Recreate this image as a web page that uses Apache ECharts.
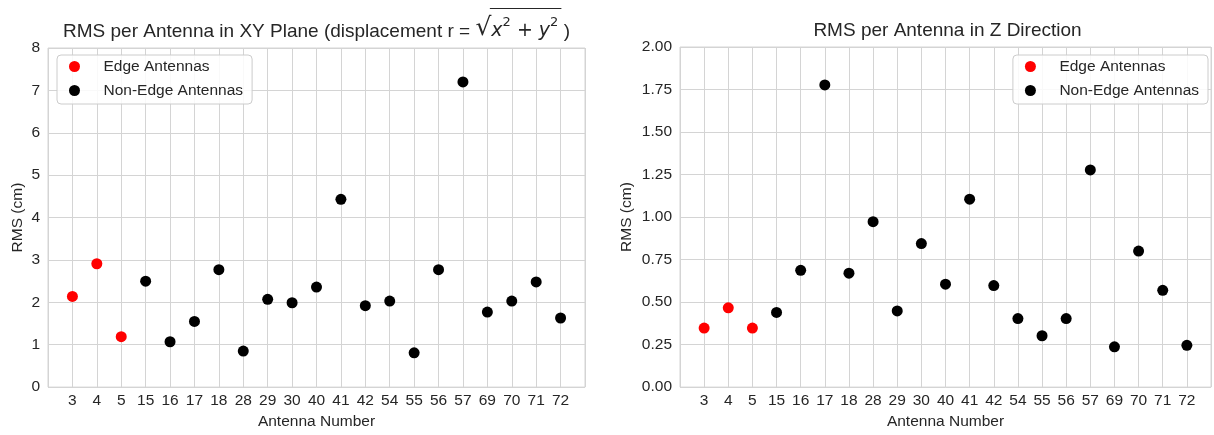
<!DOCTYPE html>
<html><head><meta charset="utf-8">
<script src="https://cdn.jsdelivr.net/npm/echarts@6/dist/echarts.min.js"></script>
<style>html,body{margin:0;padding:0;background:#fff}#c{width:1214px;height:435px}</style>
</head><body><div id="c"></div>
<script>
// ---- data ----
const antennas = ['3','4','5','15','16','17','18','28','29','30','40','41','42','54','55','56','57','69','70','71','72'];
const edgeAntennas = ['3','4','5'];
const rmsXY = [2.14,2.91,1.19,2.50,1.07,1.55,2.77,0.85,2.07,1.99,2.36,4.43,1.92,2.03,0.81,2.77,7.20,1.77,2.03,2.48,1.63];
const rmsZ  = [0.347,0.466,0.347,0.439,0.687,1.777,0.670,0.973,0.448,0.844,0.605,1.105,0.597,0.403,0.302,0.403,1.277,0.237,0.800,0.569,0.246];
const yTicksXY = ['0','1','2','3','4','5','6','7','8'];
const yTicksZ  = ['0.00','0.25','0.50','0.75','1.00','1.25','1.50','1.75','2.00'];
const seriesNames = ['Edge Antennas','Non-Edge Antennas'];
const titleXY = 'RMS per Antenna in XY Plane (displacement r = ';
const titleZ = 'RMS per Antenna in Z Direction';
const xLabel = 'Antenna Number';
const yLabel = 'RMS (cm)';

// ---- styling ----
const FONT = '"Liberation Sans", Arial, sans-serif';
const TXT = '#262626';
const GRIDC = '#d4d4d4';
const FS = 15.5;

function pts(vals, edge) {
  const out = [];
  antennas.forEach((a, i) => {
    const isEdge = edgeAntennas.indexOf(a) >= 0;
    if (isEdge === edge) out.push([i, vals[i]]);
  });
  return out;
}

function xAxisCfg(gi) {
  return {
    gridIndex: gi, type: 'value', min: -1, max: antennas.length, interval: 1,
    name: xLabel, nameLocation: 'middle', nameGap: 25,
    nameTextStyle: {fontSize: FS, fontFamily: FONT, color: TXT},
    axisLine: {show: false}, axisTick: {show: false},
    axisLabel: {margin: 6, fontSize: FS, fontFamily: FONT, color: TXT,
      formatter: v => (antennas[v] !== undefined ? antennas[v] : '')},
    splitLine: {show: true, lineStyle: {color: GRIDC, width: 1}}
  };
}
function yAxisCfg(gi, ticks, step, gap) {
  return {
    gridIndex: gi, type: 'value', min: 0, max: (ticks.length - 1) * step, interval: step,
    name: yLabel, nameLocation: 'middle', nameGap: gap, nameRotate: 90,
    nameTextStyle: {fontSize: FS, fontFamily: FONT, color: TXT},
    axisLine: {show: false}, axisTick: {show: false},
    axisLabel: {margin: 8, fontSize: FS, fontFamily: FONT, color: TXT,
      formatter: v => ticks[Math.round(v / step)]},
    splitLine: {show: true, lineStyle: {color: GRIDC, width: 1}}
  };
}
function legendCfg(pos) {
  return Object.assign({
    orient: 'vertical', top: 55, data: seriesNames,
    icon: 'circle', itemWidth: 20, itemHeight: 11, itemGap: 7,
    padding: [3, 9, 5, 12],
    backgroundColor: 'rgba(255,255,255,0.85)', borderColor: '#cccccc', borderWidth: 1, borderRadius: 4,
    selectedMode: false,
    textStyle: {fontSize: FS, fontFamily: FONT, color: TXT, lineHeight: 17, padding: [0,0,0,14]}
  }, pos);
}
function scatter(name, xi, data, color) {
  return {type: 'scatter', name: name, xAxisIndex: xi, yAxisIndex: xi, data: data,
    symbol: 'circle', symbolSize: 11, itemStyle: {color: color, opacity: 1},
    emphasis: {disabled: true}, z: 3};
}

// measure title pieces to place the radical's vinculum
const mc = document.createElement('canvas').getContext('2d');
function mw(text, font) { mc.font = font; return mc.measureText(text).width; }
const TS = 19, SUP = 13, RAD = 25;
const fN = TS + 'px "Liberation Sans"';
const fI = 'italic ' + TS + 'px "DejaVu Sans"';
const fM = TS + 'px "DejaVu Sans"';
const fS = SUP + 'px "DejaVu Sans"';
const fR = RAD + 'px "DejaVu Sans"';
const wN = mw(titleXY, fN), wR = mw('\u221A', fR);
const wMath = mw('x', fI) + mw('2', fS) + mw(' + ', fM) + mw('y', fI) + mw('2', fS);
const wEnd = mw(' )', fN);
const total = wN + wR + wMath + wEnd;
const cxL = (48 + 585) / 2;
const x0 = cxL - total / 2;
const vStart = x0 + wN + wR - 1.5, vEnd = x0 + wN + wR + wMath + 3;

const chart = echarts.init(document.getElementById('c'), null, {renderer: 'canvas'});
chart.setOption({
  animation: false,
  backgroundColor: '#ffffff',
  grid: [
    {left: 48, top: 48, width: 537, height: 346, show: true, borderColor: GRIDC, borderWidth: 1, backgroundColor: '#fff'},
    {left: 680, top: 47, width: 535, height: 347, show: true, borderColor: GRIDC, borderWidth: 1, backgroundColor: '#fff'}
  ],
  xAxis: [xAxisCfg(0), xAxisCfg(1)],
  yAxis: [yAxisCfg(0, yTicksXY, 1, 22), yAxisCfg(1, yTicksZ, 0.25, 45)],
  legend: [legendCfg({left: 57}), legendCfg({right: 6})],
  series: [
    scatter(seriesNames[0], 0, pts(rmsXY, true), '#ff0000'),
    scatter(seriesNames[1], 0, pts(rmsXY, false), '#000000'),
    scatter(seriesNames[0], 1, pts(rmsZ, true), '#ff0000'),
    scatter(seriesNames[1], 1, pts(rmsZ, false), '#000000')
  ],
  graphic: [
    {type: 'text', x: x0, y: 27, silent: true, style: {
      text: '{n|' + titleXY + '}{r|\u221A}{i|x}{s|2}{m| + }{i|y}{s|2}{n| )}',
      align: 'left', verticalAlign: 'middle', fill: TXT,
      rich: {
        n: {fontSize: TS, fontFamily: '"Liberation Sans"', fill: TXT, verticalAlign: 'bottom', lineHeight: 24},
        r: {fontSize: RAD, fontFamily: '"DejaVu Sans"', fill: TXT, verticalAlign: 'bottom', lineHeight: 28},
        i: {fontSize: TS, fontFamily: '"DejaVu Sans"', fontStyle: 'italic', fill: TXT, verticalAlign: 'bottom', lineHeight: 24},
        m: {fontSize: TS, fontFamily: '"DejaVu Sans"', fill: TXT, verticalAlign: 'bottom', lineHeight: 24},
        s: {fontSize: SUP, fontFamily: '"DejaVu Sans"', fill: TXT, verticalAlign: 'top', lineHeight: 14, padding: [3, 0, 0, 0]}
      }
    }},
    {type: 'line', silent: true, shape: {x1: vStart, y1: 8.5, x2: vEnd, y2: 8.5}, style: {stroke: TXT, lineWidth: 1.2}},
    {type: 'text', x: (680 + 1215) / 2, y: 31, silent: true, style: {
      text: titleZ, align: 'center', verticalAlign: 'middle', fill: TXT,
      fontSize: TS, fontFamily: FONT
    }}
  ]
});
</script></body></html>
